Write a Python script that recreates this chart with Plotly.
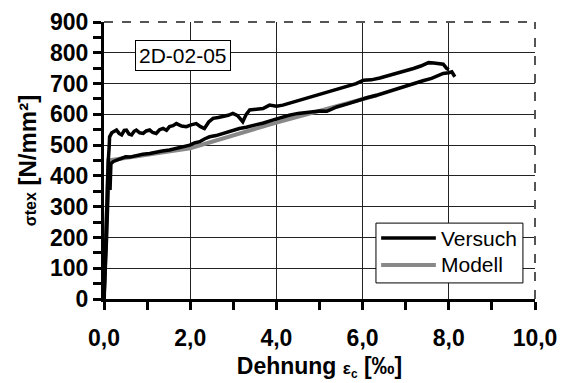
import plotly.graph_objects as go

# Versuch, upper branch
v1_x = [0, 0.02, 0.05, 0.08, 0.10, 0.12, 0.13, 0.18, 0.29, 0.35, 0.41, 0.47, 0.52, 0.58, 0.64, 0.70,
        0.75, 0.83, 0.91, 0.98, 1.06, 1.13, 1.21, 1.29, 1.37, 1.45, 1.52, 1.60, 1.68, 1.80, 1.91, 2.02,
        2.14, 2.24, 2.33, 2.43, 2.53, 2.65, 2.76, 2.88, 2.99, 3.10, 3.22, 3.30, 3.38, 3.53, 3.69, 3.84,
        4.00, 4.15, 4.30, 4.50, 4.70, 4.90, 5.05, 5.24, 5.45, 5.65, 5.85, 6.02, 6.20, 6.40, 6.64, 6.85,
        7.00, 7.18, 7.35, 7.53, 7.65, 7.78, 7.87, 7.95, 8.00]
v1_y = [0, 100, 250, 380, 451, 494, 527, 540, 549, 538, 533, 548, 549, 536, 533, 545,
        549, 540, 538, 546, 549, 541, 538, 550, 554, 548, 560, 563, 570, 562, 560, 566,
        570, 560, 554, 575, 587, 590, 592, 597, 603, 596, 576, 600, 614, 616, 619, 630,
        626, 630, 636, 645, 651, 660, 665, 673, 683, 692, 700, 711, 712, 718, 727, 735,
        740, 749, 757, 768, 767, 765, 763, 749, 745]

# Versuch, lower branch
v2_x = [0, 0.03, 0.06, 0.09, 0.11, 0.14, 0.16, 0.22, 0.29, 0.40, 0.50, 0.60, 0.75, 0.90, 1.06, 1.20,
        1.35, 1.52, 1.70, 1.85, 1.99, 2.10, 2.22, 2.33, 2.45, 2.60, 2.76, 2.95, 3.14, 3.30, 3.53, 3.70,
        3.91, 4.10, 4.30, 4.50, 4.75, 5.00, 5.17, 5.40, 5.65, 5.90, 6.10, 6.33, 6.55, 6.80, 7.00, 7.18,
        7.40, 7.60, 7.87, 8.00, 8.07, 8.14]
v2_y = [0, 80, 200, 330, 445, 354, 440, 447, 451, 455, 462, 461, 466, 470, 473, 478,
        481, 484, 490, 494, 500, 507, 511, 520, 527, 531, 538, 545, 554, 558, 565, 572,
        581, 590, 597, 603, 607, 611, 610, 624, 634, 646, 654, 662, 672, 684, 692, 700,
        709, 717, 733, 735, 738, 722]

# Modell
m_x = [0, 0.10, 2.00, 4.00, 6.33]
m_y = [0, 450, 490, 573, 662]

x_ticks = [0, 2, 4, 6, 8, 10]
x_labels = ["0,0", "2,0", "4,0", "6,0", "8,0", "10,0"]
y_ticks = [0, 100, 200, 300, 400, 500, 600, 700, 800, 900]
y_labels = ["0", "100", "200", "300", "400", "500", "600", "700", "800", "900"]
label_box = "2D-02-05"
legend_names = ["Versuch", "Modell"]
legend_colors = ["#000000", "#888888"]

FONT = "Liberation Sans, Arial, sans-serif"
BLACK_W = 3.5
GRAY_W = 4

fig = go.Figure()
fig.add_trace(go.Scatter(x=m_x, y=m_y, mode="lines", name="Modell",
                         line=dict(color="#888888", width=GRAY_W)))
fig.add_trace(go.Scatter(x=v2_x, y=v2_y, mode="lines", name="Versuch",
                         line=dict(color="#000000", width=BLACK_W)))
fig.add_trace(go.Scatter(x=v1_x, y=v1_y, mode="lines", name="Versuch",
                         line=dict(color="#000000", width=BLACK_W)))

# framed legend box in the lower right of the plot area
lg_x0, lg_x1, lg_y0, lg_y1 = 0.631, 0.972, 0.058, 0.274
row_y = [0.220, 0.123]
shapes = [
    dict(type="line", xref="paper", yref="paper", x0=0, x1=1, y0=1, y1=1,
         line=dict(color="#555555", width=2, dash="dash")),
    dict(type="line", xref="paper", yref="paper", x0=1, x1=1, y0=0, y1=1,
         line=dict(color="#555555", width=2, dash="dash")),
    dict(type="rect", xref="paper", yref="paper", x0=lg_x0, x1=lg_x1, y0=lg_y0, y1=lg_y1,
         fillcolor="white", line=dict(color="black", width=1), layer="above"),
]
annotations = [
    dict(x=1.83, y=790, xref="x", yref="y", text=label_box, showarrow=False,
         font=dict(family=FONT, size=21, color="black"),
         bgcolor="white", bordercolor="black", borderwidth=1, borderpad=3),
]
for name, col, yy in zip(legend_names, legend_colors, row_y):
    shapes.append(dict(type="line", xref="paper", yref="paper", x0=0.643, x1=0.770, y0=yy, y1=yy,
                       line=dict(color=col, width=BLACK_W if col == "#000000" else GRAY_W),
                       layer="above"))
    annotations.append(dict(x=0.778, y=yy, xref="paper", yref="paper", text=name,
                            showarrow=False, xanchor="left", yanchor="middle",
                            font=dict(family=FONT, size=21, color="black")))

fig.update_layout(
    width=561, height=383,
    margin=dict(l=104, r=26, t=22, b=84),
    paper_bgcolor="white", plot_bgcolor="white",
    font=dict(family=FONT, color="black", size=21),
    showlegend=False,
    xaxis=dict(
        range=[0, 10], tickvals=x_ticks, ticktext=["<b>%s</b>" % t for t in x_labels],
        showline=True, linecolor="black", linewidth=3,
        ticks="outside", ticklen=8, tickwidth=3, tickcolor="black",
        minor=dict(dtick=1, ticks="outside", ticklen=8, tickwidth=3, tickcolor="black", showgrid=False),
        showgrid=True, gridcolor="#222222", gridwidth=1,
        zeroline=False, ticklabelstandoff=8, automargin=False,
        tickfont=dict(family=FONT, size=23, color="black"),
        title=dict(text="<b>Dehnung <span style='font-size:17px'>ε<sub>c</sub></span> [‰]</b>",
                   font=dict(family=FONT, size=23, color="black"), standoff=9),
    ),
    yaxis=dict(
        range=[0, 900], tickvals=y_ticks, ticktext=["<b>%s</b>" % t for t in y_labels],
        showline=True, linecolor="black", linewidth=3,
        ticks="outside", ticklen=8, tickwidth=3, tickcolor="black",
        minor=dict(dtick=50, ticks="outside", ticklen=8, tickwidth=3, tickcolor="black", showgrid=False),
        showgrid=True, gridcolor="#222222", gridwidth=1,
        zeroline=False, automargin=False,
        tickfont=dict(family=FONT, size=23, color="black"),
        title=dict(text="<b><span style='font-size:16px'>σtex</span> [N/mm²]</b>",
                   font=dict(family=FONT, size=24, color="black"), standoff=7),
    ),
    shapes=shapes,
    annotations=annotations,
)

fig.write_html("out.html")
